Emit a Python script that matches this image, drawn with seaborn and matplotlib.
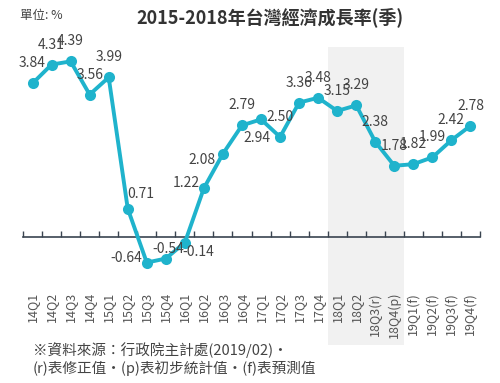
import pandas as pd
import seaborn as sns
import matplotlib.pyplot as plt

# data
quarters = ['14Q1', '14Q2', '14Q3', '14Q4', '15Q1', '15Q2', '15Q3', '15Q4',
            '16Q1', '16Q2', '16Q3', '16Q4', '17Q1', '17Q2', '17Q3', '17Q4',
            '18Q1', '18Q2', '18Q3(r)', '18Q4(p)', '19Q1(f)', '19Q2(f)',
            '19Q3(f)', '19Q4(f)']
growth = [3.84, 4.31, 4.39, 3.56, 3.99, 0.71, -0.64, -0.54,
          -0.14, 1.22, 2.08, 2.79, 2.94, 2.50, 3.36, 3.48,
          3.15, 3.29, 2.38, 1.78, 1.82, 1.99, 2.42, 2.78]
shaded = ['18Q1', '18Q2', '18Q3(r)', '18Q4(p)']

title = '2015-2018年台灣經濟成長率(季)'
unit = '單位: %'
note1 = '※資料來源：行政院主計處(2019/02)・'
note2 = '(r)表修正值・(p)表初步統計值・(f)表預測值'

sns.set_style('white')
plt.rcParams['font.family'] = ['Noto Sans CJK TC', 'DejaVu Sans']

LINE = '#1fb3cc'
TEXT = '#444444'

df = pd.DataFrame({'quarter': quarters, 'growth': growth})
df['pos'] = range(len(df))

fig = plt.figure(figsize=(5, 3.83), dpi=100)
ax = fig.add_axes([0.046, 0.256, 0.914, 0.637])

# grey band for 2018
x0 = quarters.index(shaded[0]) - 0.5
x1 = quarters.index(shaded[-1]) + 0.5
ax.axvspan(x0, x1, ymin=-0.246, ymax=0.975, color='#f1f1f1', lw=0,
           zorder=0, clip_on=False)

sns.lineplot(data=df, x='pos', y='growth', ax=ax, color=LINE, lw=2.8,
             marker='o', markersize=8, markeredgewidth=0, zorder=3)

# label offsets in pixels (most sit straight above the point)
offsets = {5: (13, 15), 6: (-21, 5), 7: (2, 10), 8: (13, -9),
           9: (-18, 5), 10: (-21, -6), 12: (-4, -19)}
for i, v in enumerate(growth):
    dx, dy = offsets.get(i, (0, 20))
    ax.annotate(f'{v:.2f}', (i, v), xytext=(dx, dy),
                textcoords='offset pixels', ha='center', va='center',
                fontsize=10, color=TEXT, zorder=4)

ax.set_xlim(-0.5, len(quarters) - 0.5)
ax.set_ylim(-1.2, 4.9)
ax.set_xlabel('')
ax.set_ylabel('')
ax.set_yticks([])

# axis line at zero with small ticks between quarters
for s in ['top', 'right', 'left']:
    ax.spines[s].set_visible(False)
ax.spines['bottom'].set_position(('data', 0))
ax.spines['bottom'].set_color('#3a4450')
ax.spines['bottom'].set_linewidth(1.2)
ax.set_xticks([i - 0.5 for i in range(len(quarters) + 1)])
ax.set_xticklabels([])
ax.tick_params(axis='x', bottom=True, direction='in', length=4, width=1,
               color='#3a4450')

# quarter labels along the bottom of the plot area
sec = ax.secondary_xaxis('bottom')
sec.set_xticks(range(len(quarters)))
sec.set_xticklabels(quarters, rotation=90, fontsize=9, color='#555555')
sec.tick_params(length=0, pad=5)
sec.spines['bottom'].set_visible(False)

fig.text(0.54, 0.955, title, ha='center', va='center', fontsize=13,
         fontweight='bold', color='#333333')
fig.text(0.04, 0.96, unit, ha='left', va='center', fontsize=9, color=TEXT)
fig.text(0.066, 0.086, note1, ha='left', va='center', fontsize=10.5,
         color=TEXT)
fig.text(0.066, 0.039, note2, ha='left', va='center', fontsize=10.5,
         color=TEXT)

fig.savefig('out.png', dpi=100)
